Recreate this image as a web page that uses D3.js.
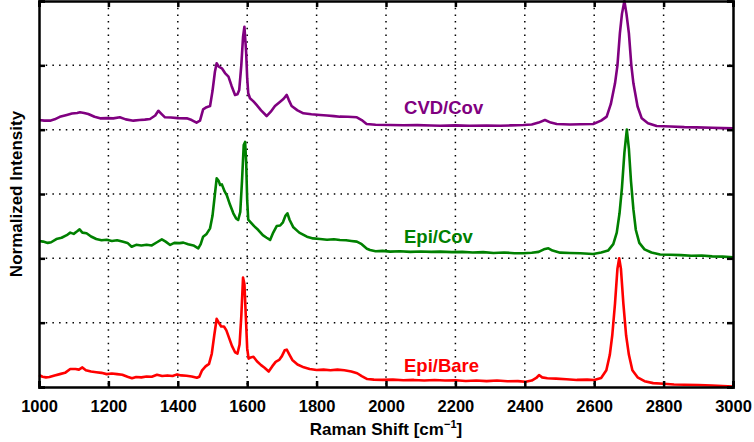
<!DOCTYPE html>
<html>
<head>
<meta charset="utf-8">
<script src="https://cdn.jsdelivr.net/npm/d3@7"></script>
<style>
  body { margin: 0; background: #fff; }
  text { font-family: "Liberation Sans", Arial, Helvetica, sans-serif; font-weight: bold; }
</style>
</head>
<body>
<svg id="chart"></svg>
<script>
// Raman shift [cm-1] and normalized intensity
var epiBareShift = [1000,1010,1020,1030,1045,1060,1075,1090,1105,1115,1125,1135,1150,1165,1180,1195,1210,1225,1240,1255,1268,1280,1295,1310,1325,1340,1355,1370,1385,1398,1410,1425,1440,1455,1462,1470,1480,1490,1498,1505,1512,1518,1525,1533,1540,1548,1556,1565,1572,1578,1583,1588,1592,1596,1600,1604,1610,1618,1628,1640,1650,1662,1672,1682,1692,1700,1708,1714,1722,1730,1745,1763,1780,1800,1820,1840,1860,1880,1900,1917,1930,1946,1965,1990,2020,2050,2080,2110,2140,2170,2200,2230,2260,2290,2320,2350,2380,2402,2420,2433,2441,2450,2465,2490,2520,2550,2580,2600,2620,2635,2645,2652,2660,2667,2672,2677,2684,2692,2700,2710,2725,2745,2770,2800,2830,2860,2900,2940,2970,3000];
var epiBareInt = [0.093,0.08,0.075,0.078,0.09,0.10,0.11,0.14,0.14,0.135,0.152,0.13,0.12,0.115,0.11,0.10,0.105,0.10,0.095,0.08,0.068,0.078,0.075,0.082,0.08,0.095,0.085,0.09,0.085,0.098,0.09,0.088,0.082,0.072,0.08,0.13,0.16,0.18,0.26,0.40,0.53,0.50,0.47,0.47,0.44,0.38,0.32,0.27,0.26,0.33,0.55,0.85,0.80,0.55,0.30,0.22,0.23,0.235,0.20,0.17,0.15,0.12,0.16,0.195,0.21,0.24,0.285,0.29,0.25,0.21,0.175,0.153,0.14,0.132,0.135,0.13,0.135,0.13,0.12,0.107,0.085,0.062,0.057,0.055,0.057,0.053,0.055,0.05,0.054,0.05,0.052,0.047,0.05,0.046,0.05,0.045,0.046,0.041,0.05,0.07,0.093,0.075,0.068,0.065,0.06,0.055,0.057,0.054,0.07,0.13,0.25,0.40,0.65,0.92,1.0,0.92,0.65,0.40,0.25,0.13,0.075,0.045,0.03,0.025,0.02,0.018,0.015,0.012,0.008,0.003];

var epiCovShift = [1000,1012,1025,1035,1050,1065,1080,1090,1100,1110,1117,1125,1137,1150,1165,1180,1195,1210,1225,1240,1255,1267,1280,1295,1310,1325,1340,1354,1365,1378,1390,1405,1416,1430,1445,1459,1466,1473,1483,1493,1500,1507,1512,1518,1522,1527,1535,1541,1550,1560,1568,1574,1580,1585,1590,1594,1597,1600,1603,1608,1620,1632,1645,1656,1666,1675,1685,1695,1703,1710,1716,1722,1733,1750,1772,1790,1810,1830,1850,1867,1885,1900,1916,1930,1945,1954,1970,1990,2012,2040,2070,2100,2130,2156,2190,2220,2250,2280,2310,2340,2370,2396,2420,2440,2455,2468,2480,2502,2530,2560,2597,2620,2640,2655,2665,2673,2680,2687,2694,2700,2706,2713,2720,2730,2745,2765,2790,2820,2850,2880,2910,2940,2970,3000];
var epiCovInt = [0.135,0.13,0.12,0.125,0.15,0.16,0.18,0.20,0.19,0.21,0.225,0.20,0.195,0.17,0.15,0.14,0.145,0.135,0.14,0.13,0.12,0.09,0.105,0.10,0.105,0.10,0.125,0.148,0.13,0.104,0.12,0.118,0.122,0.11,0.10,0.078,0.11,0.168,0.19,0.233,0.33,0.50,0.622,0.60,0.57,0.575,0.52,0.492,0.42,0.35,0.31,0.298,0.36,0.60,0.88,0.905,0.75,0.45,0.30,0.285,0.25,0.22,0.18,0.16,0.143,0.20,0.251,0.255,0.28,0.33,0.35,0.30,0.241,0.20,0.168,0.155,0.15,0.145,0.148,0.143,0.14,0.135,0.13,0.11,0.075,0.065,0.055,0.058,0.052,0.055,0.05,0.053,0.05,0.052,0.048,0.05,0.045,0.048,0.042,0.045,0.04,0.039,0.043,0.05,0.07,0.078,0.06,0.044,0.042,0.04,0.034,0.045,0.06,0.11,0.20,0.35,0.55,0.82,1.0,0.85,0.60,0.38,0.22,0.12,0.07,0.045,0.03,0.028,0.025,0.02,0.022,0.015,0.013,0.008];

var cvdCovShift = [1000,1015,1032,1045,1060,1080,1095,1110,1118,1130,1142,1160,1176,1195,1214,1233,1250,1272,1290,1305,1320,1335,1344,1352,1363,1380,1400,1426,1440,1454,1464,1473,1483,1493,1500,1507,1512,1518,1527,1536,1546,1555,1565,1572,1577,1583,1588,1592,1597,1600,1603,1608,1618,1627,1640,1656,1668,1680,1695,1705,1714,1720,1728,1745,1762,1785,1810,1830,1850,1867,1890,1916,1930,1944,1970,2012,2050,2090,2130,2156,2200,2240,2290,2329,2360,2396,2420,2440,2458,2475,2492,2530,2560,2597,2620,2636,2648,2660,2667,2674,2680,2687,2693,2700,2707,2713,2725,2737,2755,2780,2820,2860,2895,2940,2970,3000];
var cvdCovInt = [0.075,0.07,0.07,0.08,0.10,0.114,0.125,0.13,0.135,0.13,0.122,0.10,0.088,0.09,0.088,0.096,0.08,0.07,0.075,0.078,0.083,0.11,0.147,0.125,0.096,0.095,0.09,0.088,0.075,0.054,0.07,0.158,0.175,0.184,0.30,0.45,0.516,0.49,0.477,0.44,0.412,0.34,0.27,0.275,0.308,0.50,0.72,0.80,0.60,0.40,0.283,0.244,0.22,0.192,0.15,0.106,0.14,0.184,0.217,0.24,0.27,0.23,0.184,0.15,0.127,0.12,0.114,0.11,0.105,0.101,0.10,0.096,0.075,0.044,0.038,0.036,0.034,0.035,0.032,0.031,0.033,0.03,0.032,0.031,0.033,0.036,0.04,0.055,0.075,0.055,0.044,0.04,0.042,0.044,0.07,0.101,0.20,0.36,0.50,0.749,0.90,1.0,0.90,0.749,0.50,0.36,0.18,0.088,0.05,0.028,0.025,0.02,0.018,0.015,0.012,0.01];

var seriesNames = ["Epi/Bare", "Epi/Cov", "CVD/Cov"];
var seriesOffsets = [0, 1, 2];
var xTicks = [1000, 1200, 1400, 1600, 1800, 2000, 2200, 2400, 2600, 2800, 3000];
var yTicks = [0, 0.5, 1, 1.5, 2, 2.5, 3];

var series = [
  {name: seriesNames[0], offset: seriesOffsets[0], color: "#ff0000", x: epiBareShift, y: epiBareInt},
  {name: seriesNames[1], offset: seriesOffsets[1], color: "#008000", x: epiCovShift, y: epiCovInt},
  {name: seriesNames[2], offset: seriesOffsets[2], color: "#800080", x: cvdCovShift, y: cvdCovInt}
];

var W = 754, H = 442;
var margin = {top: 1, right: 21, bottom: 55, left: 39};
var width = W - margin.left - margin.right;
var height = H - margin.top - margin.bottom;

var svg = d3.select("#chart")
    .attr("width", W)
    .attr("height", H)
    .append("g")
    .attr("transform", "translate(" + margin.left + "," + margin.top + ")");

var x = d3.scaleLinear().domain([1000, 3000]).range([0, width]);
var y = d3.scaleLinear().domain([0, 3]).range([height, 0]);

// dotted grid
var grid = svg.append("g").attr("class", "grid")
    .attr("stroke", "#000")
    .attr("stroke-width", 1.5)
    .attr("stroke-dasharray", "1.5,5.2");

grid.selectAll("line.v")
  .data(xTicks.slice(1, -1))
  .enter().append("line")
  .attr("class", "v")
  .attr("x1", (d) => x(d)).attr("x2", (d) => x(d))
  .attr("y1", 0).attr("y2", height);

grid.selectAll("line.h")
  .data(yTicks.slice(1, -1))
  .enter().append("line")
  .attr("class", "h")
  .attr("x1", 0).attr("x2", width)
  .attr("y1", (d) => y(d)).attr("y2", (d) => y(d));

// spectra
var line = d3.line()
    .x((d) => x(d[0]))
    .y((d) => y(d[1]));

svg.append("g")
  .selectAll("path")
  .data(series)
  .enter()
  .append("path")
  .attr("fill", "none")
  .attr("stroke", (d) => d.color)
  .attr("stroke-width", 2.6)
  .attr("stroke-linejoin", "round")
  .attr("d", (d) => line(d.x.map((v, i) => [v, d.y[i] + d.offset])));

// series names
svg.append("g")
  .selectAll("text")
  .data(series)
  .enter()
  .append("text")
  .attr("x", x(2052))
  .attr("y", (d) => y(d.offset + 0.12))
  .attr("fill", (d) => d.color)
  .style("font-size", "18.5px")
  .text((d) => d.name);

// axes: ticks inward on all four sides, no y labels
var xAxisB = d3.axisBottom(x).tickValues(xTicks).tickSize(-6).tickPadding(13).tickFormat(d3.format("d"));
var xAxisT = d3.axisTop(x).tickValues(xTicks).tickSize(-6).tickFormat("");
var yAxisL = d3.axisLeft(y).tickValues(yTicks).tickSize(-6).tickFormat("");
var yAxisR = d3.axisRight(y).tickValues(yTicks).tickSize(-6).tickFormat("");

function styleAxis(g) {
  g.selectAll(".domain").attr("stroke-width", 2.5).attr("stroke", "#000");
  g.selectAll(".tick line").attr("stroke-width", 2.5).attr("stroke", "#000");
  g.selectAll(".tick text").style("font-size", "16.5px").attr("fill", "#000");
}

svg.append("g").attr("transform", "translate(0," + height + ")").call(xAxisB).call(styleAxis);
svg.append("g").call(xAxisT).call(styleAxis);
svg.append("g").call(yAxisL).call(styleAxis);
svg.append("g").attr("transform", "translate(" + width + ",0)").call(yAxisR).call(styleAxis);

// axis titles
var xTitle = svg.append("text")
    .attr("x", width / 2)
    .attr("y", height + 48)
    .attr("text-anchor", "middle")
    .style("font-size", "17px")
    .attr("fill", "#000");
xTitle.append("tspan").text("Raman Shift [cm");
xTitle.append("tspan").attr("dy", -7).style("font-size", "11px").text("\u22121");
xTitle.append("tspan").attr("dy", 7).text("]");

svg.append("text")
    .attr("transform", "translate(" + (-17) + "," + (height / 2) + ") rotate(-90)")
    .attr("text-anchor", "middle")
    .style("font-size", "17px")
    .attr("fill", "#000")
    .text("Normalized Intensity");
</script>
</body>
</html>
